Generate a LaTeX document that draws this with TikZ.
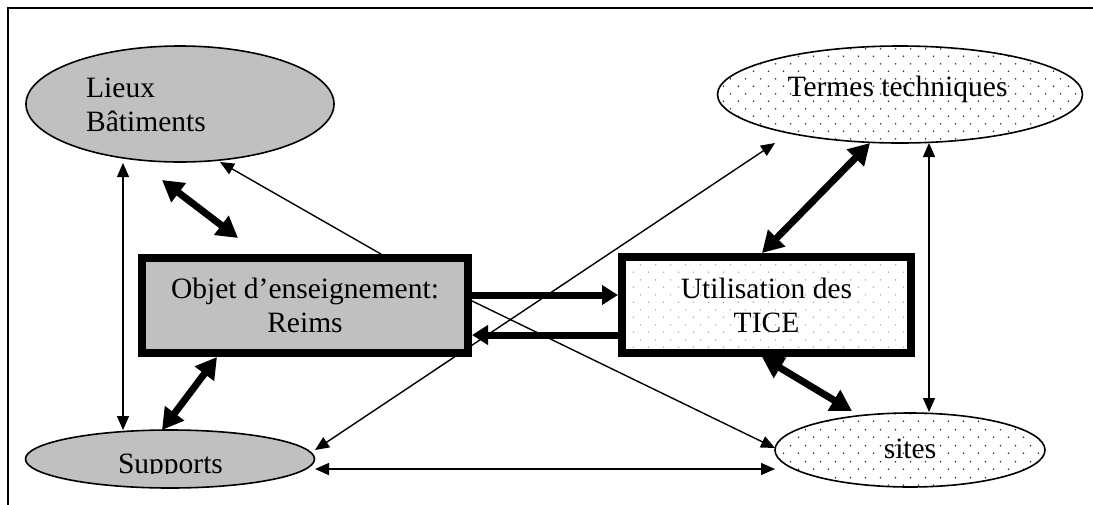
\documentclass[tikz,border=0pt]{standalone}
\usepackage{fontspec}
\setmainfont{Liberation Serif}
\usetikzlibrary{arrows.meta,calc,shapes.geometric,patterns.meta}
\definecolor{boxgray}{RGB}{192,192,192}
\tikzdeclarepattern{
  name=dotgrid,
  type=uncolored,
  bounding box={(0pt,0pt) and (15pt,15.4pt)},
  tile size={(15pt,15.4pt)},
  code={
    \pgfpathcircle{\pgfpoint{3.75pt}{3.85pt}}{0.9pt}
    \pgfpathcircle{\pgfpoint{11.25pt}{11.55pt}}{0.9pt}
    \pgfusepath{fill}
  }
}
\tikzset{
  lab/.style={font=\fontsize{29.5pt}{34pt}\selectfont, inner sep=0pt},
  grayell/.style={ellipse, draw, line width=1.6pt, fill=boxgray, inner sep=0pt},
  dotell/.style={ellipse, draw, line width=1.6pt, preaction={fill=white}, pattern=dotgrid, pattern color=black!80, inner sep=0pt},
  bigbox/.style={rectangle, draw, line width=8pt, inner sep=0pt, align=center, font=\fontsize{29.5pt}{34pt}\selectfont},
  thinone/.style={line width=1.4pt, -{Triangle[length=14pt,width=12pt]}},
  thinboth/.style={line width=1.4pt, {Triangle[length=14pt,width=12pt]}-{Triangle[length=14pt,width=12pt]}},
  thickone/.style={line width=7pt, -{Triangle[length=16pt,width=19pt]}},
  thickboth/.style={line width=7pt, {Triangle[length=21pt,width=23pt]}-{Triangle[length=21pt,width=23pt]}},
  frameline/.style={line width=2pt}
}
\begin{document}
\begin{tikzpicture}[x=1pt,y=-1pt]
\useasboundingbox (0,0) rectangle (1093,504);
\clip (0,0) rectangle (1093,504);
% frame
\draw[frameline] (8.3,520) -- (8.3,7.7) -- (1100,7.7);
% nodes
\node[grayell, minimum width=308pt, minimum height=116pt] (lieux) at (180,104) {};
\node[dotell, minimum width=365pt, minimum height=97pt] (termes) at (900,94.5) {};
\node[bigbox, fill=boxgray, minimum width=326pt, minimum height=95pt] (objet) at (305,305.5) {Objet d’enseignement:\\Reims};
\node[bigbox, preaction={fill=white}, pattern=dotgrid, pattern color=black!30, minimum width=289pt, minimum height=96pt] (util) at (766.5,305) {Utilisation des\\TICE};
\node[grayell, minimum width=289pt, minimum height=58pt] (supports) at (170,459) {};
\node[dotell, minimum width=270pt, minimum height=74pt] (sites) at (910,450) {};
% labels
\node[lab, anchor=west, align=left] (lieuxtext) at (86,105) {Lieux\\Bâtiments};
\node[lab, anchor=base] (termestext) at (897.5,96) {Termes techniques};
\node[lab, anchor=base] (sitestext) at (910,458) {sites};
\begin{scope}
  \clip (0,0) rectangle (1093,473.5);
  \node[lab, anchor=base] (supportstext) at (170.5,473) {Supports};
\end{scope}
% connectors
\draw[thinboth] ($(lieux.center)+(-57,59)$) -- ($(supports.center)+(-47,-29)$);
\draw[thickboth] ($(lieux.center)+(-18,76)$) -- ($(objet.center)+(-67,-67.5)$);
\draw[thinone] ($(objet.center)+(82,-48)$) -- ($(lieux.center)+(40,58)$);
\draw[thickboth] ($(objet.center)+(-88,51.5)$) -- ($(supports.center)+(-8,-29)$);
\draw[thinboth] ($(supports.center)+(145,-9)$) -- ($(termes.center)+(-125,48.5)$);
\draw[thinone] ($(objet.center)+(163,-6.5)$) -- ($(sites.center)+(-135,-2)$);
\draw[thickone] ($(objet.center)+(167,-10.5)$) -- ($(util.center)+(-148.5,-10)$);
\draw[thickone] ($(util.center)+(-148.5,30)$) -- ($(objet.center)+(167,29.5)$);
\draw[thickboth] ($(util.center)+(-4.5,-52)$) -- ($(termes.center)+(-30,48.5)$);
\draw[thickboth] ($(util.center)+(-4.5,52)$) -- ($(sites.center)+(-58,-39)$);
\draw[thinboth] ($(termes.center)+(29,48.5)$) -- ($(sites.center)+(19,-38)$);
\draw[thinboth] ($(supports.center)+(145,10)$) -- ($(sites.center)+(-135,19)$);
\end{tikzpicture}
\end{document}
